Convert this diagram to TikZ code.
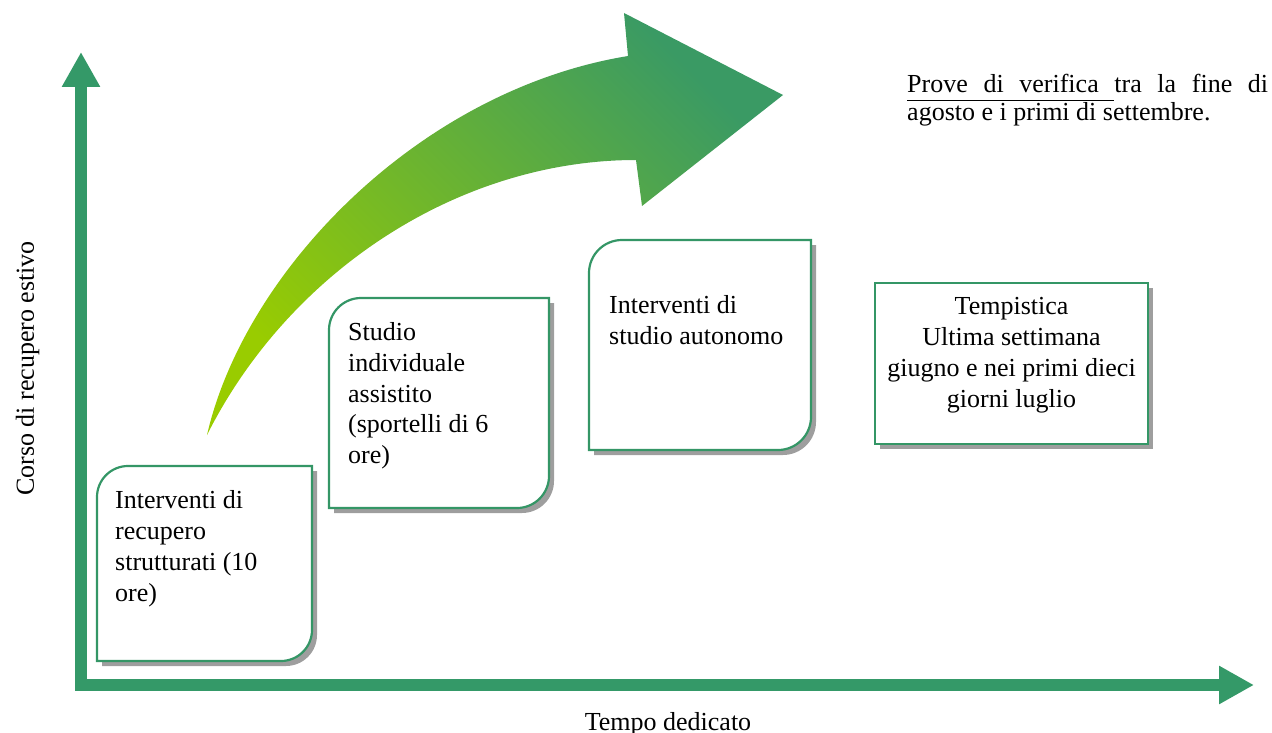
\documentclass[tikz,border=0pt]{standalone}
\usepackage{fontspec}
\setmainfont{Liberation Serif}
\usetikzlibrary{arrows.meta}
\definecolor{axisg}{RGB}{52,153,104}
\definecolor{boxg}{RGB}{52,150,102}
\definecolor{shadowg}{RGB}{158,158,158}
\definecolor{tailg}{RGB}{153,204,0}
\definecolor{headg}{RGB}{58,154,100}
\newcommand\roundbox[5]{% x1 y1 x2 y2 r
  \fill[shadowg,shift={(5,5)}] (#1,#4) -- (#1,#2+#5) .. controls (#1,#2+0.448*#5) and (#1+0.448*#5,#2) .. (#1+#5,#2) -- (#3,#2) -- (#3,#4-#5) .. controls (#3,#4-0.448*#5) and (#3-0.448*#5,#4) .. (#3-#5,#4) -- cycle;
  \filldraw[boxline] (#1,#4) -- (#1,#2+#5) .. controls (#1,#2+0.448*#5) and (#1+0.448*#5,#2) .. (#1+#5,#2) -- (#3,#2) -- (#3,#4-#5) .. controls (#3,#4-0.448*#5) and (#3-0.448*#5,#4) .. (#3-#5,#4) -- cycle;
}
\newcommand\ulword[1]{\setbox0\hbox{#1}\rlap{\vrule height -6.8pt depth 8.3pt width \wd0}\box0}
\newcommand\ulspace{\leaders\hrule height -6.8pt depth 8.3pt\hskip\fontdimen2\font plus\fontdimen3\font minus\fontdimen4\font}
\begin{document}
\begin{tikzpicture}[x=1pt,y=-1pt,
  boxline/.style={fill=white,draw=boxg,line width=2.2pt},
  btext/.style={font=\fontsize{26}{30.8}\selectfont,inner sep=0pt,align=left,anchor=north west},
  axis/.style={draw=axisg,line width=12pt,line join=miter,
    {Triangle[width=36pt,length=35pt]}-{Triangle[width=36pt,length=35pt]}}]
\useasboundingbox (0,0) rectangle (1272,733);

% axes
\coordinate (ytip) at (81,52);
\coordinate (origin) at (81,685);
\coordinate (xtip) at (1254,685);
\draw[axis] (ytip) -- (origin) -- (xtip);

% curved arrow
\shade[left color=tailg,right color=headg,shading angle=135]
  (207,435) .. controls (245,270) and (420,90) .. (628,56)
  -- (624,13) -- (783,95) -- (642,206) -- (636,160)
  .. controls (460,160) and (290,270) .. (207,435) -- cycle;

% boxes
\roundbox{97}{466}{312}{661}{31}
\roundbox{329}{298}{549}{508}{32}
\roundbox{589}{240}{811}{450}{33}
\fill[shadowg] (880,288) rectangle (1153,449);
\filldraw[boxline] (875,283) rectangle (1148,444);

% texts
\node[btext] (t1) at (115,490.4) {Interventi di\\recupero\\strutturati (10\\ore)};
\node[btext] (t2) at (348,322.2) {Studio\\individuale\\assistito\\(sportelli di 6\\ore)};
\node[btext] (t3) at (609,295.2) {Interventi di\\studio autonomo};
\node[btext,align=center,anchor=north] (t4) at (1011.5,297.2) {Tempistica\\Ultima settimana\\giugno e nei primi dieci\\giorni luglio};
\node[font=\fontsize{26}{28}\selectfont,inner sep=0pt,text width=361pt,align=justify,anchor=north west] (prove) at (907,74.2)
  {\ulword{Prove}\ulspace\ulword{di}\ulspace\ulword{verifica}\ulspace tra la fine di agosto e i primi di settembre.};
\node[font=\fontsize{26}{30}\selectfont,inner sep=0pt,anchor=base] (xlabel) at (668,730) {Tempo dedicato};
\node[font=\fontsize{26}{30}\selectfont,inner sep=0pt,anchor=base,rotate=90] (ylabel) at (34,368.5) {Corso di recupero estivo};
\end{tikzpicture}
\end{document}
